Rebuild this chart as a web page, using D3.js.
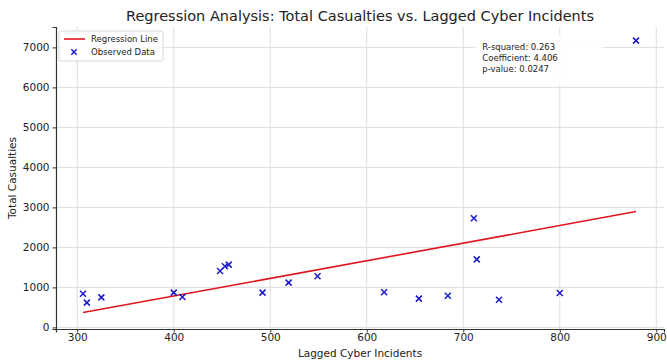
<!DOCTYPE html>
<html>
<head>
<meta charset="utf-8">
<script src="https://cdn.jsdelivr.net/npm/d3@7"></script>
<style>
  body { margin: 0; background: #fff; }
  svg { font-family: 'DejaVu Sans', sans-serif; }
</style>
</head>
<body>
<svg id="chart" width="667" height="363"></svg>
<script>
// observed points
const incidents = [306, 310, 325, 400, 409, 448, 453, 457, 492, 519, 549, 618, 654, 684, 711, 714, 737, 800, 879];
const casualties = [840, 620, 750, 870, 760, 1410, 1530, 1570, 870, 1120, 1280, 880, 720, 790, 2730, 1700, 690, 860, 7170];

// regression results
const intercept = -977;
const coefficient = 4.406;
const statLines = ['R-squared: 0.263', 'Coefficient: 4.406', 'p-value: 0.0247'];

const xTicks = [300, 400, 500, 600, 700, 800, 900];
const yTicks = [0, 1000, 2000, 3000, 4000, 5000, 6000, 7000];

const svg = d3.select('#chart');
const margin = { top: 27, right: 3, bottom: 34, left: 56 };
const width = 667 - margin.left - margin.right;
const height = 363 - margin.top - margin.bottom;

const x = d3.scaleLinear().domain([278, 908]).range([0, width]);
const y = d3.scaleLinear().domain([-40, 7510]).range([height, 0]);

const g = svg.append('g').attr('transform', `translate(${margin.left},${margin.top})`);

// grid
g.append('g')
  .selectAll('line')
  .data(xTicks)
  .join('line')
  .attr('x1', (d) => x(d))
  .attr('x2', (d) => x(d))
  .attr('y1', 0)
  .attr('y2', height)
  .attr('stroke', '#dedede')
  .attr('stroke-width', 1);

g.append('g')
  .selectAll('line')
  .data(yTicks)
  .join('line')
  .attr('x1', 0)
  .attr('x2', width)
  .attr('y1', (d) => y(d))
  .attr('y2', (d) => y(d))
  .attr('stroke', '#dedede')
  .attr('stroke-width', 1);

// axes
const xAxis = g.append('g')
  .attr('transform', `translate(0,${height})`)
  .call(d3.axisBottom(x).tickValues(xTicks).tickSize(3.5).tickPadding(1.5));
const yAxis = g.append('g')
  .call(d3.axisLeft(y).tickValues(yTicks).tickFormat(d3.format('d')).tickSize(3.5).tickPadding(3));

[xAxis, yAxis].forEach((a) => {
  a.select('.domain').attr('stroke', '#333').attr('stroke-width', 1.2);
  a.selectAll('.tick line').attr('stroke', '#333');
  a.selectAll('.tick text')
    .attr('fill', '#222')
    .style('font-size', '10.5px')
    .style('font-family', 'DejaVu Sans, sans-serif');
});

// regression line
const xr = d3.extent(incidents);
g.append('line')
  .attr('x1', x(xr[0]))
  .attr('y1', y(intercept + coefficient * xr[0]))
  .attr('x2', x(xr[1]))
  .attr('y2', y(intercept + coefficient * xr[1]))
  .attr('stroke', '#e0141e')
  .attr('stroke-width', 1.6);

// observed points as x markers
const pts = incidents.map((d, i) => [d, casualties[i]]);
const cross = (s) => `M${-s},${-s}L${s},${s}M${-s},${s}L${s},${-s}`;
g.append('g')
  .selectAll('path')
  .data(pts)
  .join('path')
  .attr('transform', (d) => `translate(${x(d[0])},${y(d[1])})`)
  .attr('d', cross(3))
  .attr('stroke', '#1a1acc')
  .attr('stroke-width', 1.5)
  .attr('fill', 'none');

// stats box
const statsG = g.append('g').attr('transform', `translate(${x(700) + 12},${8})`);
statsG.append('rect')
  .attr('x', 0)
  .attr('y', 0)
  .attr('width', 128)
  .attr('height', 50)
  .attr('fill', '#fff')
  .attr('opacity', 0.85);
statsG.selectAll('text')
  .data(statLines)
  .join('text')
  .attr('x', 7)
  .attr('y', (d, i) => 15 + i * 11)
  .attr('fill', '#222')
  .style('font-size', '8.5px')
  .text((d) => d);

// legend
const leg = g.append('g').attr('transform', 'translate(3,4)');
leg.append('rect')
  .attr('width', 104)
  .attr('height', 30)
  .attr('rx', 2)
  .attr('fill', '#fff')
  .attr('fill-opacity', 0.85)
  .attr('stroke', '#d8d8d8');
leg.append('line')
  .attr('x1', 5).attr('x2', 26)
  .attr('y1', 8).attr('y2', 8)
  .attr('stroke', '#e0141e').attr('stroke-width', 1.6);
leg.append('path')
  .attr('transform', 'translate(15,21)')
  .attr('d', cross(2.7))
  .attr('stroke', '#1a1acc').attr('stroke-width', 1.5);
leg.selectAll('text')
  .data(['Regression Line', 'Observed Data'])
  .join('text')
  .attr('x', 32)
  .attr('y', (d, i) => 11 + i * 13)
  .attr('fill', '#222')
  .style('font-size', '8.5px')
  .text((d) => d);

// titles
svg.append('text')
  .attr('x', margin.left + width / 2)
  .attr('y', 21)
  .attr('text-anchor', 'middle')
  .attr('fill', '#222')
  .style('font-size', '14.5px')
  .text('Regression Analysis: Total Casualties vs. Lagged Cyber Incidents');

svg.append('text')
  .attr('x', margin.left + width / 2)
  .attr('y', 357)
  .attr('text-anchor', 'middle')
  .attr('fill', '#222')
  .style('font-size', '10.5px')
  .text('Lagged Cyber Incidents');

svg.append('text')
  .attr('transform', `translate(16,${margin.top + height / 2}) rotate(-90)`)
  .attr('text-anchor', 'middle')
  .attr('fill', '#222')
  .style('font-size', '10.5px')
  .text('Total Casualties');
</script>
</body>
</html>
